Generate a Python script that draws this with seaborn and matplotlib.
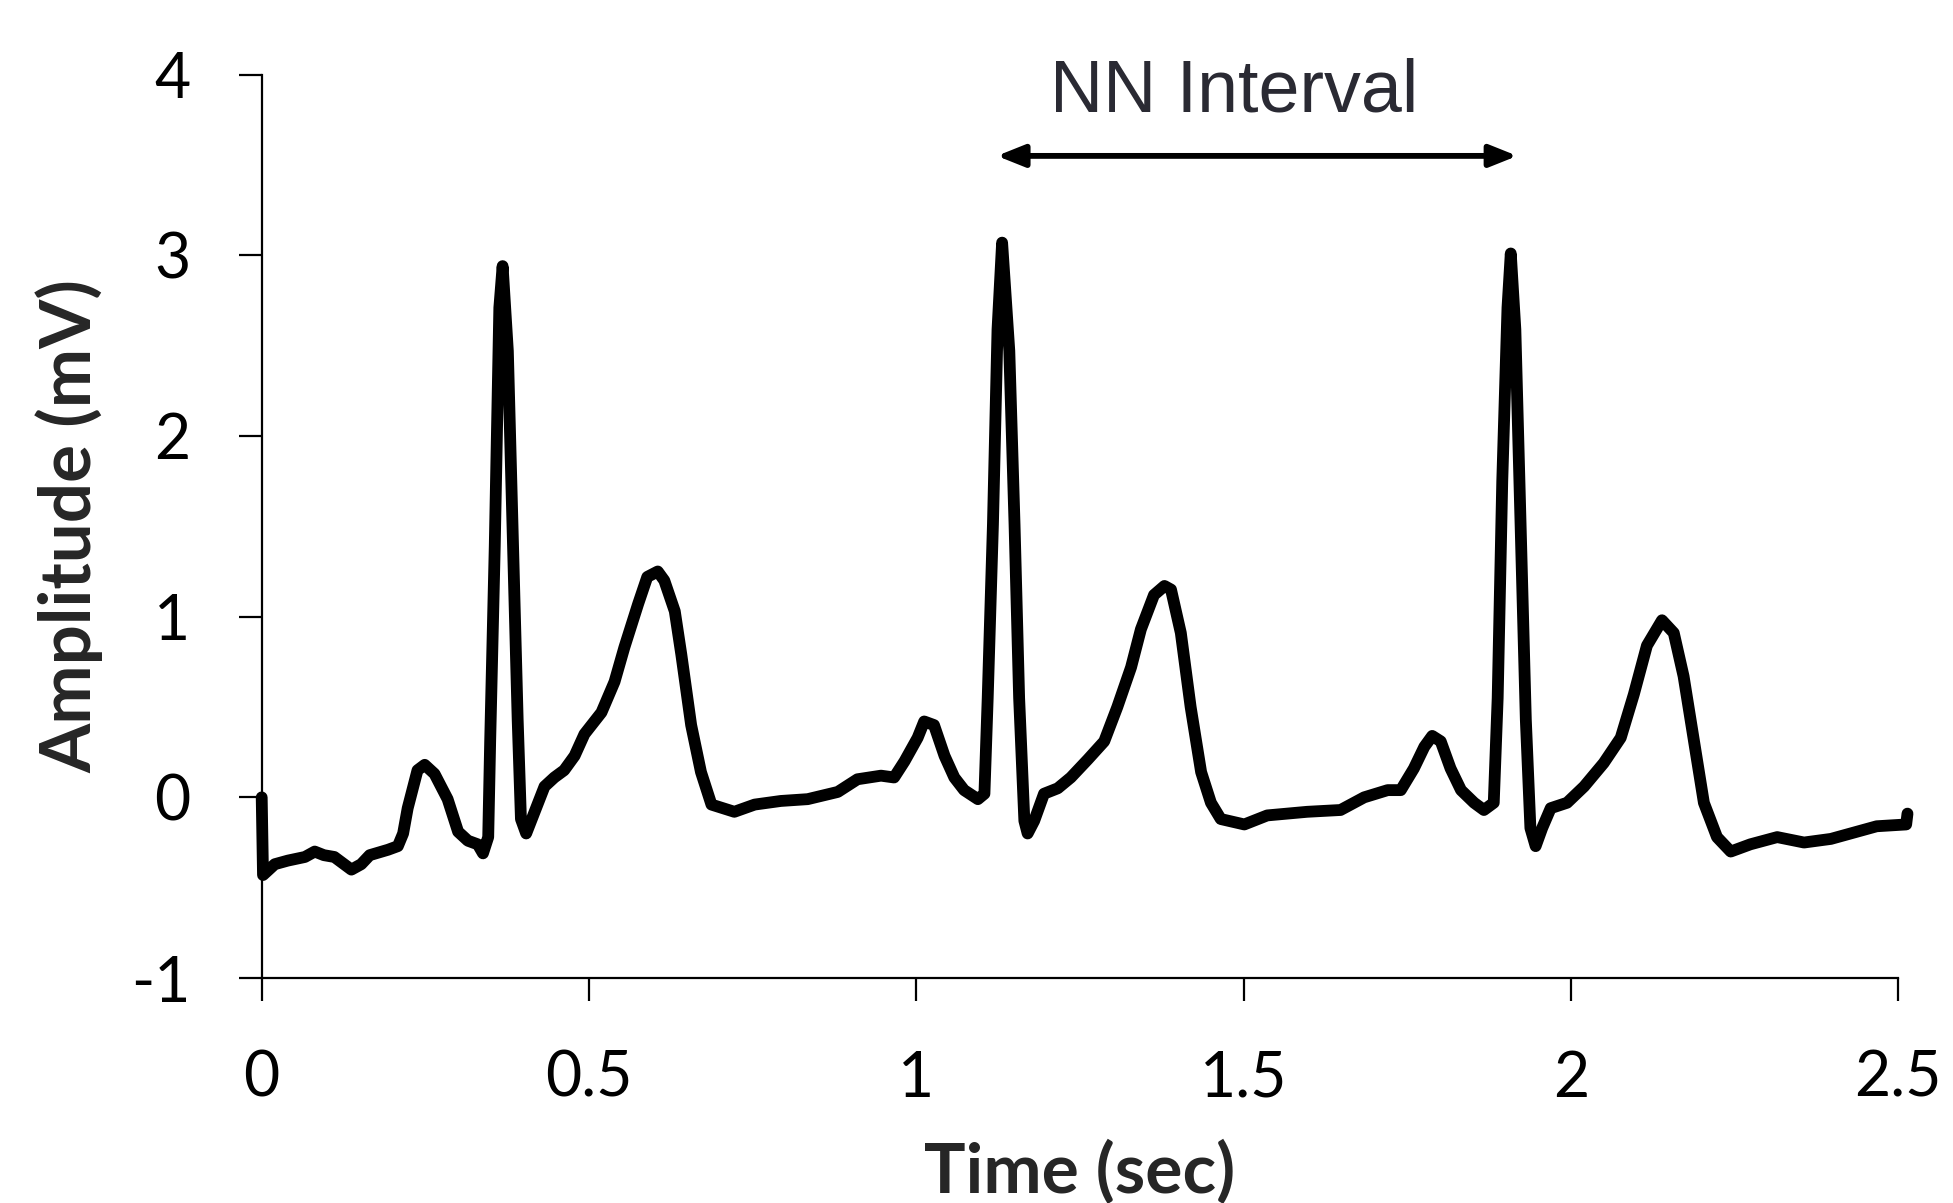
import numpy as np
import pandas as pd
import matplotlib
matplotlib.use("Agg")
import matplotlib.pyplot as plt
import seaborn as sns

# ---- data ----
time_sec = [0.000, 0.002, 0.020, 0.040, 0.066, 0.081, 0.095, 0.111, 0.137, 0.152,
            0.165, 0.193, 0.208, 0.216, 0.223, 0.238, 0.249, 0.264, 0.284, 0.300,
            0.315, 0.330, 0.338, 0.346, 0.349, 0.356, 0.363, 0.368, 0.376, 0.383,
            0.391, 0.396, 0.404, 0.417, 0.432, 0.447, 0.462, 0.478, 0.493, 0.519,
            0.539, 0.554, 0.575, 0.589, 0.605, 0.615, 0.631, 0.641, 0.656, 0.671,
            0.687, 0.722, 0.753, 0.793, 0.834, 0.880, 0.910, 0.946, 0.966, 0.982,
            1.002, 1.012, 1.027, 1.043, 1.058, 1.073, 1.094, 1.104, 1.109, 1.117,
            1.124, 1.131, 1.142, 1.150, 1.157, 1.165, 1.170, 1.180, 1.195, 1.216,
            1.236, 1.262, 1.287, 1.307, 1.328, 1.343, 1.363, 1.379, 1.389, 1.404,
            1.419, 1.435, 1.450, 1.465, 1.501, 1.536, 1.597, 1.648, 1.684, 1.720,
            1.740, 1.760, 1.776, 1.788, 1.801, 1.816, 1.832, 1.852, 1.867, 1.882,
            1.888, 1.895, 1.903, 1.908, 1.915, 1.923, 1.931, 1.938, 1.946, 1.956,
            1.969, 1.994, 2.020, 2.050, 2.076, 2.096, 2.116, 2.139, 2.157, 2.172,
            2.188, 2.203, 2.223, 2.244, 2.274, 2.315, 2.356, 2.397, 2.437, 2.467,
            2.512, 2.514]
amplitude_mv = [0.00, -0.43, -0.37, -0.35, -0.33, -0.30, -0.32, -0.33, -0.40, -0.37,
                -0.32, -0.29, -0.27, -0.20, -0.06, 0.15, 0.18, 0.13, -0.01, -0.19,
                -0.24, -0.26, -0.31, -0.22, 0.31, 1.39, 2.71, 2.94, 2.47, 1.51,
                0.43, -0.12, -0.20, -0.08, 0.06, 0.11, 0.15, 0.23, 0.35, 0.47,
                0.64, 0.83, 1.07, 1.22, 1.25, 1.20, 1.03, 0.79, 0.40, 0.14,
                -0.04, -0.08, -0.04, -0.02, -0.01, 0.03, 0.10, 0.12, 0.11, 0.20,
                0.33, 0.42, 0.40, 0.23, 0.11, 0.04, -0.01, 0.02, 0.55, 1.51,
                2.59, 3.07, 2.47, 1.51, 0.55, -0.13, -0.20, -0.13, 0.02, 0.05,
                0.11, 0.21, 0.31, 0.50, 0.72, 0.93, 1.12, 1.17, 1.15, 0.91,
                0.50, 0.14, -0.03, -0.12, -0.15, -0.10, -0.08, -0.07, 0.00, 0.04,
                0.04, 0.16, 0.28, 0.34, 0.31, 0.16, 0.04, -0.03, -0.07, -0.03,
                0.55, 1.75, 2.71, 3.01, 2.59, 1.51, 0.43, -0.17, -0.27, -0.17,
                -0.06, -0.03, 0.06, 0.19, 0.33, 0.57, 0.84, 0.98, 0.91, 0.67,
                0.31, -0.03, -0.22, -0.30, -0.26, -0.22, -0.25, -0.23, -0.19, -0.16,
                -0.15, -0.09]

x_ticks = [0, 0.5, 1, 1.5, 2, 2.5]
x_tick_labels = ["0", "0.5", "1", "1.5", "2", "2.5"]
y_ticks = [-1, 0, 1, 2, 3, 4]
y_tick_labels = ["-1", "0", "1", "2", "3", "4"]

nn_label = "NN Interval"
nn_start = 1.123
nn_end = 1.918
nn_level = 3.55

df = pd.DataFrame({"Time (sec)": time_sec, "Amplitude (mV)": amplitude_mv})

sns.set_theme(style="ticks")
plt.rcParams["font.family"] = ["Lato", "DejaVu Sans"]

fig = plt.figure(figsize=(19.53, 12.03), dpi=100)
ax = fig.add_axes([0.134, 0.187, 0.838, 0.751])

sns.lineplot(data=df, x="Time (sec)", y="Amplitude (mV)", ax=ax,
             estimator=None, sort=False, color="black", linewidth=8.5,
             clip_on=False, solid_joinstyle="round", solid_capstyle="round")

ax.set_xlim(0, 2.5)
ax.set_ylim(-1, 4)
ax.set_xticks(x_ticks)
ax.set_xticklabels(x_tick_labels)
ax.set_yticks(y_ticks)
ax.set_yticklabels(y_tick_labels)

for side in ["top", "right"]:
    ax.spines[side].set_visible(False)
for side in ["left", "bottom"]:
    ax.spines[side].set_linewidth(1.6)
    ax.spines[side].set_color("black")

ax.tick_params(axis="both", direction="out", length=16.5, width=1.6,
               colors="black", labelsize=45, pad=35)

ax.set_xlabel("Time (sec)", fontsize=50, fontweight="bold", va="baseline")
ax.set_ylabel("Amplitude (mV)", fontsize=51, fontweight="bold", va="baseline")
ax.xaxis.set_label_coords(0.5, -0.2375)
ax.yaxis.set_label_coords(-0.1038, 0.5)

ax.annotate("", xy=(nn_start, nn_level), xytext=(nn_end, nn_level),
            arrowprops=dict(arrowstyle="<|-|>,head_length=0.75,head_width=0.3",
                            mutation_scale=22, lw=4.2, color="black",
                            shrinkA=0, shrinkB=0),
            annotation_clip=False)
ax.text((nn_start + nn_end) / 2 - 0.035, 3.796, nn_label, ha="center", va="baseline",
        fontsize=53, family=["Liberation Sans", "DejaVu Sans"], color="#2a2a33")

fig.savefig("out.png", dpi=100, facecolor="white")
